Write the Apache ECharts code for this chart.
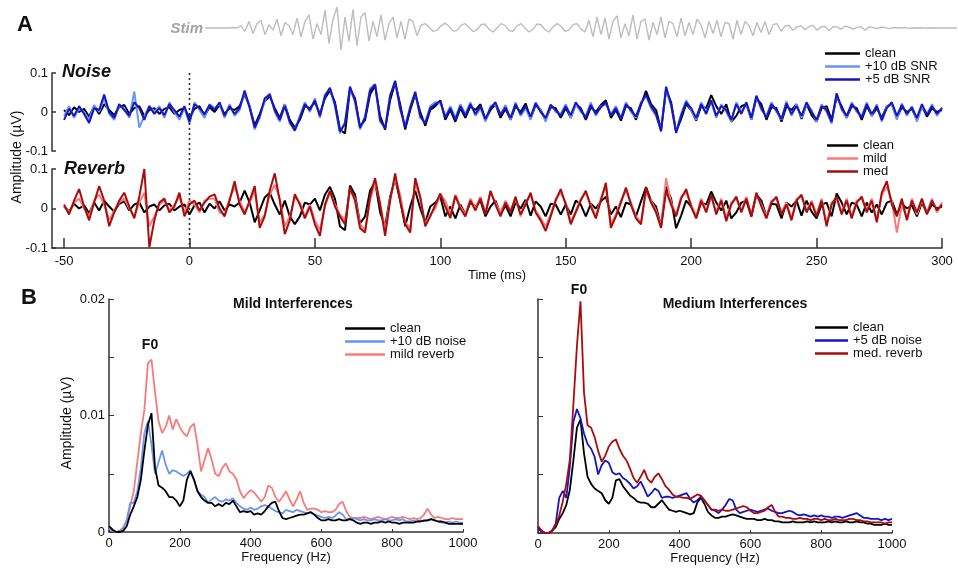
<!DOCTYPE html>
<html>
<head>
<meta charset="utf-8">
<script src="https://cdn.jsdelivr.net/npm/echarts@6/dist/echarts.min.js"></script>
<style>
  html, body { margin: 0; padding: 0; background: #fff; }
  #chart { width: 958px; height: 570px; }
</style>
</head>
<body>
<div id="chart"></div>
<script>
// ---- panel A: time axis (ms), samples every 2 ms from -50 ms ----
const timeStartMs = -50;
const timeStepMs = 2;
const timeTicks = [-50, 0, 50, 100, 150, 200, 250, 300];

// amplitudes in 0.001 µV
const noiseClean = [
  5, -8, 12, 0, 8, -12, 15, -5, 20, 5,
  -8, 12, 18, -5, 10, 15, -10, 5, 10, -5,
  8, 12, -5, 5, 10, -15, 8, 15, -10, 12,
  0, 18, -5, 10, 5, 15, 45, 15, -35, -5,
  28, 40, 10, -15, 20, -20, -40, -20, 15, 10,
  25, -5, 35, 55, 25, -45, -55, 58, 35, -38,
  -20, 45, 68, -10, -45, 30, 75, 20, -45, 5,
  45, 0, -35, 5, 15, 30, -20, 5, -25, 10,
  -15, 15, 5, 20, -20, 5, 20, -15, 8, -20,
  15, 0, 22, -18, 18, 5, -20, 12, 10, -15,
  10, -15, 20, 10, -20, 12, 0, 18, 30, -15,
  5, -22, 15, 10, -20, 18, 54, 20, 5, -45,
  55, 25, -50, -18, 20, 5, -22, 15, 10, 43,
  15, -5, 20, -25, -10, 15, 20, -20, 35, 20,
  -20, 12, 10, -25, 15, 5, 20, -18, 20, -8,
  -25, 10, 15, -20, 38, 15, -15, 15, 10, -20,
  15, -10, 10, -15, 15, 20, -15, 12, 0, 8,
  -20, 15, -12, 10, 0, 5
];
const noise10dB = [
  -10, 15, -15, 10, 0, -20, 18, 0, 35, -5,
  -20, 15, 10, -15, 52, -40, -10, 15, 0, 15,
  -15, 25, 0, -20, 10, -30, 25, 5, -15, 20,
  10, 20, -15, 20, -10, 5, 50, 15, -45, -15,
  30, 48, 0, -25, 20, -30, -45, -10, 25, 0,
  35, -15, 45, 60, 15, -55, -25, 62, 25, -45,
  -10, 60, 72, -25, -40, 45, 78, 5, -35, 15,
  50, -15, -25, 15, 25, 22, -10, 15, -15, 20,
  -5, 25, -10, 10, -25, 15, 20, -5, 18, -20,
  25, -10, 10, -20, 25, 5, -25, 20, 0, -5,
  20, -15, 20, 0, -10, 25, -10, 15, 20, -5,
  15, -15, 25, 0, -15, 25, 40, 10, -10, -45,
  60, 15, -50, -5, 30, 5, -20, 25, 0, 25,
  -15, 20, 0, -25, 25, 0, 20, -20, 40, 5,
  -10, 25, 0, -20, 28, -10, 20, -15, 20, 5,
  -25, 20, 0, -30, 45, 5, -15, 25, 0, -10,
  25, -10, 20, -25, 15, 20, -20, 22, -10, 15,
  -25, 15, -5, 20, -10, 12
];
const noise5dB = [
  -20, 8, -10, 15, -5, -28, 10, 5, 45, 0,
  -15, 20, 5, -10, 25, 10, -20, 15, -5, 10,
  -8, 20, 5, -12, 15, -25, 20, 10, -5, 18,
  5, 25, -10, 15, -5, 10, 55, 10, -40, -10,
  35, 45, 5, -20, 15, -25, -48, -15, 20, 5,
  30, -10, 40, 62, 20, -50, -30, 65, 30, -40,
  -15, 55, 70, -20, -42, 40, 80, 10, -40, 10,
  52, -10, -30, 10, 20, 28, -15, 10, -20, 15,
  -10, 20, -5, 15, -18, 10, 25, -8, 12, -15,
  20, -5, 15, -12, 22, 0, -15, 18, 5, -10,
  15, -8, 25, 5, -15, 18, -5, 12, 25, -10,
  10, -18, 20, 5, -12, 22, 45, 15, -5, -50,
  65, 20, -54, -10, 25, 10, -15, 20, -5, 30,
  -10, 15, 5, -20, 20, -5, 25, -15, 42, 10,
  -15, 20, 5, -18, 22, -5, 15, -10, 25, 0,
  -20, 15, 5, -25, 48, 10, -10, 20, 5, -15,
  20, -5, 15, -20, 10, 25, -10, 18, -5, 12,
  -15, 20, -8, 15, -5, 10
];
const reverbMild = [
  5, -10, 15, 25, 0, -20, 20, 35, 10, -30,
  -5, 15, 25, 0, -20, 15, 40, -45, -20, 10,
  20, -5, 10, 30, -10, 20, 10, -10, 20, 25,
  25, -10, -15, 25, 55, 20, -10, 15, 45, -35,
  -15, 35, 60, 25, -45, -20, 30, 15, -20, 10,
  -30, -55, 5, 40, 10, -15, -30, 45, 25, -40,
  -55, 20, 65, 15, -55, 25, 75, 35, -35, -50,
  65, 25, -40, -15, 0, 35, 20, -15, 35, 5,
  -15, 25, 0, 30, -10, 40, 15, -10, 20, -5,
  25, -20, 15, 35, -5, -25, -45, -15, 25, 40,
  15, -35, -5, 25, 40, 10, -20, 25, 55, -40,
  -15, 20, 45, 15, -20, -35, 40, 20, -5, -45,
  77, 15, -15, 30, 40, 10, -20, 25, -5, 30,
  -10, 25, -25, 15, 25, -5, 30, -15, 35, 10,
  -20, 20, 25, -10, 15, -25, 25, 30, -5, 20,
  -15, 25, -40, 15, 25, -10, 25, -20, 20, 25,
  -5, 25, -30, 35, 55, 20, -61, 10, -25, 25,
  -15, 20, -10, 25, -10, 15
];
const reverbMed = [
  10, -15, 20, 49, 5, -30, 15, 57, 20, -45,
  -10, 20, 40, 5, -25, 30, 100, -98, -30, 15,
  25, -10, 5, 40, -20, 10, 20, -5, 15, 30,
  36, 0, -20, 20, 69, 10, -15, 20, 57, -49,
  -20, 45, 89, 20, -65, -30, 36, 10, -25, 5,
  -40, -69, 10, 45, 5, -20, -40, 53, 20, -50,
  -61, 30, 77, 10, -69, 20, 89, 20, -40, -61,
  77, 30, -45, -20, 10, 38, 5, -24, 32, 0,
  -20, 20, -5, 25, -15, 45, 10, -20, 15, -10,
  30, -15, 10, 40, -10, -30, -57, -20, 20, 49,
  10, -40, -10, 20, 45, 5, -25, 20, 65, -49,
  -20, 15, 53, 10, -25, -40, 53, 15, -10, -49,
  45, 10, -20, 25, 49, 5, -25, 20, -10, 35,
  -15, 20, -32, 10, 30, -10, 25, -20, 40, 5,
  -25, 15, 30, -15, 10, -30, 20, 35, -10, 15,
  -20, 20, -45, 10, 30, -15, 20, -25, 15, 30,
  -10, 20, -35, 40, 69, 10, -20, 25, -30, 20,
  -10, 25, -15, 20, -5, 10
];

// stimulus waveform, relative amplitude, one sample per step
const stimWave = [
  0, 0, 0, 0, 0, 0, 0, 0.02, 0,
  0.1, -0.15, 0.3, -0.25, 0.2, 0.35, -0.3, 0.15, -0.1, 0.4, -0.35, 0.25, 0.1, -0.3, 0.45,
  -0.4, 0.3, 0.6, -0.5, 0.2, -0.3, 0.8, -0.7, 0.4, 0.95, -1.0, 0.5, -0.6, 0.85, -0.8,
  0.5, 0.7, -0.6, 0.3, -0.4, 0.6, -0.55, 0.2, 0.5, -0.45, 0.3, -0.5, 0.4, 0.3, -0.35,
  0.12, 0.2, 0.05, -0.15, -0.1, 0.1, 0.22, 0.08, -0.14, -0.12, 0.12, 0.2, 0.02, -0.16, -0.08,
  0.15, 0.18, -0.05, -0.18, 0, 0.2, 0.12, -0.12, -0.15, 0.1, 0.2, 0, -0.18, -0.05, 0.18,
  0.15, -0.08, -0.18, 0.05, 0.2, 0.08, -0.15, -0.1, 0.15, 0.2, -0.05, -0.18, 0.35, -0.4, 0.5,
  -0.3, 0.45, -0.5, 0.3, 0.55, -0.45, 0.2, -0.35, 0.6, -0.5, 0.3, 0.4, -0.55, 0.25, -0.3,
  0.5, -0.45, 0.3, 0.2, -0.4, 0.45, -0.35, 0.25, -0.3, 0.4, 0.15, -0.45, 0.3, -0.25, 0.35,
  -0.4, 0.25, 0.2, -0.5, 0.35, -0.3, 0.3, 0.1, -0.35, 0.25, -0.2, 0.3, -0.3, 0.15, 0.2,
  -0.15, 0.1, 0.12, -0.1, 0.05, 0.1, -0.08, 0.06, 0.12, -0.1, 0.05, 0.08, -0.12, 0.06, 0.05,
  -0.06, 0.08, 0.04, -0.05, 0.03, 0.06, -0.1, 0.05, 0.02, -0.03, 0.04, 0.02, -0.03, 0.02, 0.01,
  0, 0.02, -0.02, 0.01, 0, 0.01, -0.01, 0, 0.01, 0, 0, 0, 0, 0, 0
];

// ---- panel B: spectra, 0..1000 Hz every 10 Hz, amplitudes in 0.0001 µV ----
const freqStepHz = 10;
const specMildClean = [
  5, 2, 0, 0, 1, 5, 15, 22, 30, 45,
  70, 92, 102, 55, 40, 38, 35, 30, 30, 27,
  22, 27, 45, 52, 45, 35, 30, 27, 25, 25,
  22, 24, 22, 25, 24, 27, 22, 17, 18, 17,
  18, 15, 16, 15, 18, 22, 25, 26, 18, 12,
  11, 12, 13, 14, 15, 15, 16, 17, 15, 12,
  10, 10, 11, 10, 10, 11, 10, 10, 11, 10,
  8, 7, 8, 8, 7, 8, 8, 9, 8, 9,
  8, 8, 7, 8, 8, 8, 8, 9, 9, 10,
  10, 11, 10, 9, 9, 8, 7, 7, 7, 7,
  7
];
const specMildNoise = [
  3, 1, 0, 1, 3, 10, 25, 25, 35, 55,
  85, 95, 75, 50, 60, 70, 58, 50, 53, 52,
  50, 48, 50, 53, 45, 35, 32, 30, 25, 28,
  30, 27, 26, 28, 27, 29, 25, 22, 20, 19,
  21, 19, 20, 22, 23, 22, 20, 18, 17, 16,
  19, 18, 17, 19, 18, 17, 16, 17, 15, 14,
  13, 12, 13, 12, 14, 17, 15, 11, 11, 12,
  11, 10, 11, 10, 10, 11, 10, 10, 11, 10,
  10, 11, 10, 11, 9, 9, 10, 9, 10, 9,
  10, 11, 10, 9, 8, 8, 9, 8, 9, 8,
  8
];
const specMildReverb = [
  5, 2, 0, 1, 4, 10, 22, 35, 60, 85,
  105, 145, 148, 120, 95, 85, 90, 100, 88, 97,
  90, 85, 82, 90, 93, 75, 52, 62, 72, 62,
  50, 48, 55, 59, 52, 50, 45, 35, 29, 33,
  36, 34, 30, 26, 30, 40, 38, 30, 26, 30,
  35, 28, 22, 28, 35, 25, 19, 20, 20, 19,
  17, 18, 17, 17, 19, 24, 26, 18, 13, 12,
  12, 12, 13, 12, 11, 12, 13, 12, 11, 12,
  13, 12, 12, 13, 12, 11, 12, 11, 12, 15,
  20, 15, 12, 13, 12, 11, 11, 12, 11, 11,
  11
];
const specMedClean = [
  5, 2, 0, 0, 2, 5, 12, 17, 24, 37,
  62, 90, 97, 68, 48, 42, 38, 36, 34, 28,
  25, 30, 45, 46, 40, 36, 32, 30, 27, 26,
  26, 25, 22, 22, 25, 28, 24, 20, 19, 18,
  19, 18, 17, 16, 17, 26, 30, 25, 18, 15,
  13, 13, 14, 14, 15, 16, 15, 14, 13, 12,
  12, 12, 11, 11, 12, 11, 11, 10, 10, 9,
  9, 9, 10, 9, 9, 9, 10, 9, 10, 9,
  9, 9, 10, 9, 10, 9, 9, 10, 9, 9,
  10, 9, 9, 8, 8, 7, 7, 7, 8, 7,
  7
];
const specMedNoise = [
  4, 1, 0, 0, 2, 8, 30, 36, 30, 57,
  95, 106, 98, 85, 76, 72, 65, 50, 58, 62,
  60, 52, 50, 51, 47, 45, 42, 38, 40, 44,
  38, 31, 34, 38, 36, 30, 31, 31, 30, 31,
  32, 33, 34, 29, 26, 28, 31, 28, 24, 20,
  19, 17, 20, 24, 29, 28, 20, 17, 18, 19,
  20, 19, 18, 19, 20, 21, 19, 18, 17, 17,
  18, 19, 18, 16, 15, 16, 15, 14, 15, 14,
  15, 14, 14, 13, 14, 14, 13, 14, 15, 16,
  17, 15, 13, 13, 12, 12, 12, 11, 12, 11,
  12
];
const specMedReverb = [
  6, 2, 0, 0, 2, 7, 15, 27, 42, 63,
  110, 160, 198, 120, 92, 90, 82, 70, 61, 66,
  74, 78, 80, 72, 66, 62, 55, 47, 43, 48,
  54, 46, 43, 48, 51, 46, 40, 37, 33, 31,
  31, 30, 30, 29, 31, 33, 32, 28, 24, 20,
  20, 19, 20, 19, 19, 20, 21, 22, 23, 22,
  19, 17, 17, 18, 19, 22, 24, 18, 14, 14,
  13, 13, 12, 12, 13, 12, 12, 11, 12, 12,
  11, 12, 11, 11, 12, 11, 11, 11, 12, 12,
  11, 11, 10, 10, 9, 9, 9, 9, 8, 9,
  9
];

const FONT = '"Liberation Sans", Arial, sans-serif';
const AXIS = '#333';
const TEXT = '#111';
const C = {
  clean: '#000000',
  lightBlue: '#6a95f2',
  blue: '#1414c8',
  pink: '#f77b7b',
  red: '#aa0c0c',
  stim: '#bdbdbd'
};

const timeSeries = (vals) => vals.map((v, i) => [timeStartMs + i * timeStepMs, v / 1000]);
const specSeries = (vals) => vals.map((v, i) => [i * freqStepHz, v / 10000]);

function trace(name, data, color, grid, width) {
  return {
    type: 'line', name, data, color,
    xAxisIndex: grid, yAxisIndex: grid,
    showSymbol: false, symbol: 'none', silent: true,
    lineStyle: { color, width },
    animation: false
  };
}

const hiddenAxis = { show: false };
const axisLine = { show: true, onZero: false, lineStyle: { color: AXIS, width: 1.5 } };
const label = { color: TEXT, fontSize: 13, fontFamily: FONT };
const plain = (v) => String(+v.toFixed(4));

function legend(left, top, width, rowH, names) {
  return {
    left, top, orient: 'vertical', padding: 0, itemGap: 0,
    itemWidth: width, itemHeight: 2.5, icon: 'rect', selectedMode: false,
    data: names,
    textStyle: { color: TEXT, fontSize: 13, fontFamily: FONT, lineHeight: rowH, padding: [0, 0, 0, 0] }
  };
}

function text(x, y, str, font, opts) {
  return Object.assign({
    type: 'text', x, y, silent: true,
    style: {
      text: str, font, fill: TEXT,
      textAlign: 'center', align: 'center',
      textVerticalAlign: 'middle', verticalAlign: 'middle'
    }
  }, opts || {});
}

const chart = echarts.init(document.getElementById('chart'), null, { renderer: 'canvas' });

const option = {
  backgroundColor: '#ffffff',
  animation: false,
  grid: [
    { left: 205, top: 6, width: 752, height: 44 },
    { left: 52, top: 73, width: 890, height: 78 },
    { left: 52, top: 169, width: 890, height: 79 },
    { left: 109, top: 299, width: 354, height: 233 },
    { left: 538, top: 299, width: 354, height: 234 }
  ],
  xAxis: [
    { type: 'value', gridIndex: 0, min: 0, max: stimWave.length - 1, ...hiddenAxis },
    { type: 'value', gridIndex: 1, min: -54.8, max: 300, ...hiddenAxis },
    {
      type: 'value', gridIndex: 2, min: -54.8, max: 300,
      axisLine,
      axisTick: { inside: true, length: 10, customValues: timeTicks, lineStyle: { color: AXIS, width: 1.5 } },
      axisLabel: { ...label, margin: 7, customValues: timeTicks, formatter: plain },
      splitLine: { show: false },
      name: 'Time (ms)', nameLocation: 'middle', nameGap: 17,
      nameTextStyle: { ...label }
    },
    {
      type: 'value', gridIndex: 3, min: 0, max: 1000, interval: 200,
      axisLine,
      axisTick: { inside: true, length: 3, lineStyle: { color: AXIS } },
      axisLabel: { ...label, margin: 5, formatter: plain },
      splitLine: { show: false },
      name: 'Frequency (Hz)', nameLocation: 'middle', nameGap: 18,
      nameTextStyle: { ...label }
    },
    {
      type: 'value', gridIndex: 4, min: 0, max: 1000, interval: 200,
      axisLine,
      axisTick: { inside: true, length: 3, lineStyle: { color: AXIS } },
      axisLabel: { ...label, margin: 5, formatter: plain },
      splitLine: { show: false },
      name: 'Frequency (Hz)', nameLocation: 'middle', nameGap: 18,
      nameTextStyle: { ...label }
    }
  ],
  yAxis: [
    { type: 'value', gridIndex: 0, min: -1, max: 1, ...hiddenAxis },
    {
      type: 'value', gridIndex: 1, min: -0.1, max: 0.1, interval: 0.1,
      axisLine,
      axisTick: { show: true, inside: true, length: 4, lineStyle: { color: AXIS, width: 1.5 } },
      axisLabel: { ...label, margin: 4, formatter: plain },
      splitLine: { show: false }
    },
    {
      type: 'value', gridIndex: 2, min: -0.1, max: 0.1, interval: 0.1,
      axisLine,
      axisTick: { show: true, inside: true, length: 4, lineStyle: { color: AXIS, width: 1.5 } },
      axisLabel: { ...label, margin: 4, formatter: plain },
      splitLine: { show: false }
    },
    {
      type: 'value', gridIndex: 3, min: 0, max: 0.02, interval: 0.005,
      axisLine,
      axisTick: { show: true, inside: true, length: 5, lineStyle: { color: AXIS } },
      axisLabel: { ...label, margin: 4, customValues: [0, 0.01, 0.02], formatter: plain },
      splitLine: { show: false }
    },
    {
      type: 'value', gridIndex: 4, min: 0, max: 0.02, interval: 0.005,
      axisLine,
      axisTick: { show: true, inside: true, length: 5, lineStyle: { color: AXIS } },
      axisLabel: { show: false },
      splitLine: { show: false }
    }
  ],
  legend: [
    legend(825, 47, 35, 13, ['clean', '+10 dB SNR', '+5 dB SNR']),
    legend(827, 139, 31, 13, ['clean', 'mild', 'med']),
    legend(345, 322, 40, 12, ['clean', '+10 dB noise', 'mild reverb']),
    legend(815, 321, 33, 12.5, ['clean', '+5 dB noise', 'med. reverb'])
  ],
  series: [
    trace('Stim', stimWave.map((v, i) => [i, v]), C.stim, 0, 1.4),

    trace('clean', timeSeries(noiseClean), C.clean, 1, 2),
    trace('+10 dB SNR', timeSeries(noise10dB), C.lightBlue, 1, 2),
    trace('+5 dB SNR', timeSeries(noise5dB), C.blue, 1, 2),

    trace('clean', timeSeries(noiseClean), C.clean, 2, 2),
    trace('mild', timeSeries(reverbMild), C.pink, 2, 2),
    trace('med', timeSeries(reverbMed), C.red, 2, 2),

    trace('mild reverb', specSeries(specMildReverb), C.pink, 3, 1.8),
    trace('+10 dB noise', specSeries(specMildNoise), C.lightBlue, 3, 1.8),
    trace('clean', specSeries(specMildClean), C.clean, 3, 1.8),

    trace('clean', specSeries(specMedClean), C.clean, 4, 1.8),
    trace('+5 dB noise', specSeries(specMedNoise), C.blue, 4, 1.8),
    trace('med. reverb', specSeries(specMedReverb), C.red, 4, 1.8)
  ]
};

chart.setOption(option);

// stimulus onset line, spanning both panel-A plots
const onsetX = chart.convertToPixel({ xAxisIndex: 1 }, 0);
const onsetTop = chart.convertToPixel({ yAxisIndex: 1 }, 0.1);
const onsetBottom = chart.convertToPixel({ yAxisIndex: 2 }, -0.1);

chart.setOption({
  graphic: [
    {
      type: 'line', silent: true, z: 10,
      shape: { x1: onsetX, y1: onsetTop, x2: onsetX, y2: onsetBottom },
      style: { stroke: '#222', lineWidth: 1.5, lineDash: [2, 3] }
    },
    text(25, 25, 'A', 'bold 22px ' + FONT),
    text(29, 298, 'B', 'bold 22px ' + FONT),
    text(203, 29, 'Stim', 'italic bold 15px ' + FONT,
      { style: { text: 'Stim', font: 'italic bold 15px ' + FONT, fill: '#a3a3a3', textAlign: 'right', align: 'right', textVerticalAlign: 'middle', verticalAlign: 'middle' } }),
    text(62, 72, 'Noise', 'italic bold 18px ' + FONT,
      { style: { text: 'Noise', font: 'italic bold 18px ' + FONT, fill: TEXT, textAlign: 'left', align: 'left', textVerticalAlign: 'middle', verticalAlign: 'middle' } }),
    text(64, 169, 'Reverb', 'italic bold 18px ' + FONT,
      { style: { text: 'Reverb', font: 'italic bold 18px ' + FONT, fill: TEXT, textAlign: 'left', align: 'left', textVerticalAlign: 'middle', verticalAlign: 'middle' } }),
    text(17, 157, 'Amplitude (µV)', '14px ' + FONT, { rotation: Math.PI / 2 }),
    text(67, 423, 'Amplitude (µV)', '14px ' + FONT, { rotation: Math.PI / 2 }),
    text(293, 304, 'Mild Interferences', 'bold 14px ' + FONT),
    text(735, 304, 'Medium Interferences', 'bold 14px ' + FONT),
    text(150, 345, 'F0', 'bold 14px ' + FONT),
    text(579, 290, 'F0', 'bold 14px ' + FONT)
  ]
});
</script>
</body>
</html>
